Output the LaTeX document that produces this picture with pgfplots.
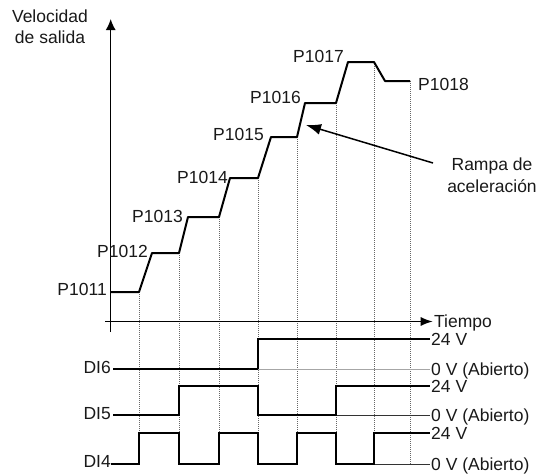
\documentclass[border=0pt]{standalone}
\usepackage{fontspec}
\setmainfont{Liberation Sans}
\usepackage{pgfplots}
\pgfplotsset{compat=1.18}
\usetikzlibrary{arrows.meta}
\tikzset{lbl/.style={font=\fontsize{17.5}{20}\selectfont, inner sep=0pt, text=black!90}}

\begin{document}
\begin{tikzpicture}
\begin{axis}[
  scale only axis,
  width=539pt, height=475pt,
  xmin=0, xmax=539, ymin=0, ymax=475,
  y dir=reverse,
  hide axis, clip=false,
]
% frame of the picture (invisible)
\addplot[draw=none] coordinates {(0,0) (539,475)};

% dotted guide lines
\addplot[black!60, densely dotted, line width=1pt] coordinates {(139,292) (139,464)};
\addplot[black!60, densely dotted, line width=1pt] coordinates {(179,253) (179,464)};
\addplot[black!60, densely dotted, line width=1pt] coordinates {(219,217) (219,464)};
\addplot[black!60, densely dotted, line width=1pt] coordinates {(258,178) (258,464)};
\addplot[black!60, densely dotted, line width=1pt] coordinates {(297,137) (297,464)};
\addplot[black!60, densely dotted, line width=1pt] coordinates {(336,103) (336,464)};
\addplot[black!60, densely dotted, line width=1pt] coordinates {(374,62) (374,464)};
\addplot[black!60, densely dotted, line width=1pt] coordinates {(410,81) (410,464)};

% axes
\addplot[black, line width=1.3pt, -{Latex[length=11pt,width=10pt]}] coordinates {(110.7,332) (110.7,19)};
\addplot[black, line width=1.3pt, -{Latex[length=12pt,width=9pt]}] coordinates {(105,321.5) (432.7,321.5)};

% output speed
\addplot[black, line width=2pt, line join=round] coordinates {
  (110.7,292) (139,292) (152,253) (179,253) (188,217) (219,217)
  (230,178) (258,178) (271,137) (297,137) (305,103) (336,103)
  (348,62) (374,62) (385,81) (410,81)};

% DI6
\addplot[black!35, line width=0.8pt] coordinates {(258,369) (430,369)};
\addplot[black, line width=1.4pt] coordinates {(113,369) (258,369)};
\addplot[black, line width=2pt] coordinates {(258,369) (258,339) (430,339)};
% DI5
\addplot[black!80, line width=0.9pt] coordinates {(336,415) (430,415)};
\addplot[black, line width=2pt] coordinates {
  (113,415) (179,415) (179,386) (258,386) (258,415) (336,415) (336,386) (430,386)};
% DI4
\addplot[black!80, line width=0.9pt] coordinates {(374,464) (430,464)};
\addplot[black, line width=2pt] coordinates {
  (111,464) (139,464) (139,433) (179,433) (179,464) (219,464) (219,433)
  (258,433) (258,464) (297,464) (297,433) (336,433) (336,464) (374,464)
  (374,433) (430,433)};

% arrow to ramp
\addplot[black, line width=1.5pt, -{Latex[length=15pt,width=11pt]}] coordinates {(433,163) (306,125)};

% labels
\node[lbl, anchor=base] at (axis cs:50,22) {Velocidad};
\node[lbl, anchor=base] at (axis cs:50,43) {de salida};
\node[lbl, anchor=base east] at (axis cs:107,295) {P1011};
\node[lbl, anchor=base east] at (axis cs:148,257) {P1012};
\node[lbl, anchor=base east] at (axis cs:183,222) {P1013};
\node[lbl, anchor=base east] at (axis cs:228,183) {P1014};
\node[lbl, anchor=base east] at (axis cs:264,140) {P1015};
\node[lbl, anchor=base east] at (axis cs:301,103) {P1016};
\node[lbl, anchor=base east] at (axis cs:344,62) {P1017};
\node[lbl, anchor=base west] at (axis cs:418,90) {P1018};
\node[lbl, anchor=base] at (axis cs:492,170) {Rampa de};
\node[lbl, anchor=base] at (axis cs:492,192) {aceleración};
\node[lbl, anchor=base west] at (axis cs:434,327) {Tiempo};

\node[lbl, anchor=base east] at (axis cs:111,373) {DI6};
\node[lbl, anchor=base east] at (axis cs:111,419) {DI5};
\node[lbl, anchor=base east] at (axis cs:111,467) {DI4};

\node[lbl, anchor=base west] at (axis cs:431,345) {24 V};
\node[lbl, anchor=base west] at (axis cs:431,375) {0 V (Abierto)};
\node[lbl, anchor=base west] at (axis cs:431,392) {24 V};
\node[lbl, anchor=base west] at (axis cs:431,421) {0 V (Abierto)};
\node[lbl, anchor=base west] at (axis cs:431,439) {24 V};
\node[lbl, anchor=base west] at (axis cs:431,470) {0 V (Abierto)};
\end{axis}
\end{tikzpicture}
\end{document}
